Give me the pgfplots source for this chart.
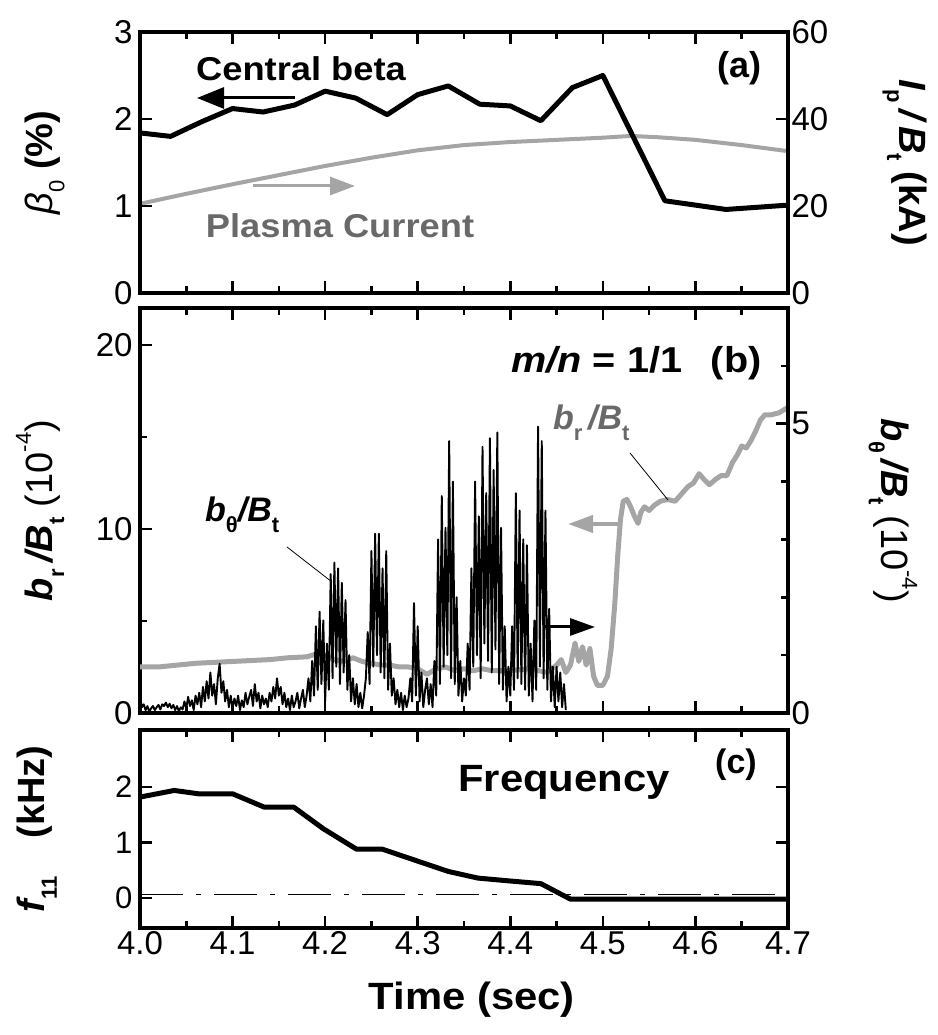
\documentclass[border=0pt]{standalone}
\usepackage{fontspec}
\setmainfont{Liberation Sans}
\newfontfamily\wide[FakeStretch=1.1]{Liberation Sans}
\usepackage{pgfplots}
\pgfplotsset{compat=1.18}
\usetikzlibrary{arrows.meta}
\definecolor{lgray}{RGB}{165,165,165}
\definecolor{dgray}{RGB}{105,105,105}
\newcommand{\fs}[1]{\fontsize{#1}{#1}\selectfont}
\newcommand{\sub}[1]{\raisebox{-0.32em}{\fontsize{22}{22}\selectfont\upshape #1}}
\newcommand{\sups}[1]{\raisebox{0.55em}{\fontsize{22}{22}\selectfont\upshape #1}}

\pgfplotstableread{
t v
4.000 1.84
4.033 1.80
4.067 1.97
4.100 2.12
4.133 2.08
4.167 2.16
4.200 2.32
4.233 2.24
4.267 2.05
4.300 2.28
4.333 2.38
4.367 2.17
4.400 2.15
4.433 1.98
4.467 2.36
4.500 2.50
4.567 1.06
4.633 0.96
4.700 1.01
}\betatab

\pgfplotstableread{
t v
4.00 20.5
4.05 22.8
4.10 25.0
4.15 27.1
4.20 29.2
4.25 31.1
4.30 32.8
4.35 34.0
4.40 34.7
4.45 35.2
4.50 35.7
4.53 36.1
4.56 35.8
4.60 35.2
4.65 34.0
4.70 32.6
}\iptab

\pgfplotstableread{
t v
4.000 2.5
4.020 2.5
4.040 2.6
4.060 2.7
4.080 2.75
4.100 2.8
4.120 2.85
4.140 2.9
4.160 3.0
4.180 3.05
4.190 3.2
4.200 3.15
4.210 2.9
4.220 2.8
4.230 3.0
4.240 2.8
4.250 2.7
4.260 2.6
4.270 2.6
4.280 2.5
4.290 2.5
4.300 2.4
4.310 2.1
4.320 2.4
4.330 2.5
4.340 2.3
4.350 2.4
4.360 2.3
4.370 2.4
4.380 2.3
4.400 2.3
4.420 2.4
4.440 2.2
4.450 2.6
4.455 2.9
4.460 2.2
4.465 2.6
4.470 3.8
4.474 2.8
4.478 3.6
4.482 2.6
4.486 3.5
4.490 2.0
4.494 1.5
4.500 1.5
4.505 2.0
4.509 3.5
4.513 6.0
4.516 8.5
4.519 10.5
4.522 11.5
4.526 11.6
4.530 11.2
4.534 10.7
4.538 10.3
4.541 10.9
4.545 11.2
4.550 11.0
4.556 11.3
4.562 11.5
4.570 11.6
4.578 11.5
4.585 11.9
4.592 12.3
4.598 12.5
4.604 13.0
4.609 12.7
4.615 12.4
4.622 12.7
4.628 12.9
4.634 12.9
4.640 13.6
4.645 14.0
4.650 14.5
4.655 14.4
4.660 14.8
4.665 15.3
4.670 15.9
4.675 16.2
4.682 16.2
4.690 16.3
4.700 16.6
}\brtab

\pgfplotstableread{
t v
4.000 0.30
4.002 0.10
4.004 0.15
4.006 0.05
4.008 0.12
4.010 0.02
4.012 0.08
4.014 0.12
4.016 0.05
4.018 0.10
4.020 0.14
4.022 0.06
4.024 0.15
4.026 0.12
4.028 0.18
4.030 0.10
4.032 0.16
4.034 0.08
4.036 0.14
4.038 0.05
4.040 0.12
4.042 0.03
4.044 0.10
4.046 0.06
4.048 0.20
4.050 0.08
4.052 0.28
4.054 0.12
4.056 0.22
4.058 0.05
4.060 0.30
4.062 0.15
4.064 0.35
4.066 0.10
4.068 0.45
4.070 0.20
4.072 0.55
4.074 0.25
4.076 0.70
4.078 0.30
4.080 0.50
4.082 0.15
4.084 0.60
4.086 0.85
4.088 0.35
4.090 0.55
4.092 0.20
4.094 0.40
4.096 0.10
4.098 0.30
4.100 0.08
4.102 0.25
4.104 0.12
4.106 0.30
4.108 0.05
4.110 0.22
4.112 0.10
4.114 0.35
4.116 0.15
4.118 0.28
4.120 0.40
4.122 0.12
4.124 0.50
4.126 0.20
4.128 0.35
4.130 0.08
4.132 0.30
4.134 0.15
4.136 0.25
4.138 0.10
4.140 0.35
4.142 0.20
4.144 0.45
4.146 0.25
4.148 0.60
4.150 0.30
4.152 0.45
4.154 0.15
4.156 0.35
4.158 0.10
4.160 0.25
4.162 0.05
4.164 0.30
4.166 0.10
4.168 0.20
4.170 0.35
4.172 0.08
4.174 0.25
4.176 0.40
4.178 0.10
4.180 0.30
4.182 0.60
4.184 0.20
4.186 0.90
4.188 0.30
4.190 1.50
4.192 0.40
4.194 1.75
4.196 0.50
4.198 1.60
4.200 0.20
4.202 1.20
4.204 0.40
4.206 2.40
4.208 0.60
4.210 2.60
4.212 0.80
4.214 2.50
4.216 0.50
4.218 2.25
4.220 0.70
4.222 1.95
4.224 0.40
4.226 1.00
4.228 0.20
4.230 0.60
4.232 0.15
4.234 0.50
4.236 0.10
4.238 0.35
4.240 0.08
4.242 0.30
4.244 0.60
4.246 1.40
4.248 0.50
4.250 2.80
4.252 0.80
4.254 3.10
4.256 1.00
4.258 3.10
4.260 0.70
4.262 2.50
4.264 0.60
4.266 2.80
4.268 0.40
4.270 1.20
4.272 0.30
4.274 0.60
4.276 0.15
4.278 0.40
4.280 0.10
4.282 0.35
4.284 0.05
4.286 0.30
4.288 0.10
4.290 0.25
4.292 0.60
4.294 0.20
4.296 1.90
4.298 0.30
4.300 1.50
4.302 0.20
4.304 0.70
4.306 0.10
4.308 0.40
4.310 0.60
4.312 0.15
4.314 0.50
4.316 0.10
4.318 0.90
4.320 0.30
4.322 3.00
4.324 0.50
4.326 3.75
4.328 0.80
4.330 3.20
4.332 1.00
4.334 4.70
4.336 0.60
4.338 4.00
4.340 0.50
4.342 2.00
4.344 0.30
4.346 0.90
4.348 0.20
4.350 0.60
4.352 0.30
4.354 1.20
4.356 0.40
4.358 2.50
4.360 0.80
4.362 4.00
4.364 1.00
4.366 3.40
4.368 0.60
4.370 4.60
4.372 1.20
4.374 3.80
4.376 0.90
4.378 4.75
4.380 0.70
4.382 4.20
4.384 1.10
4.386 4.85
4.388 0.50
4.390 3.20
4.392 0.40
4.394 1.50
4.396 0.20
4.398 0.80
4.400 0.30
4.402 1.50
4.404 0.40
4.406 3.80
4.408 0.60
4.410 3.50
4.412 0.50
4.414 3.00
4.416 0.40
4.418 2.90
4.420 0.30
4.422 1.20
4.424 0.20
4.426 1.60
4.428 0.40
4.430 4.95
4.432 0.80
4.434 4.70
4.436 0.60
4.438 3.50
4.440 0.40
4.442 1.80
4.444 0.20
4.446 0.80
4.448 0.10
4.450 0.80
4.452 0.20
4.454 0.70
4.456 0.10
4.458 0.50
4.460 0.05
}\bthtab

\pgfplotstableread{
t v
4.000 1.82
4.037 1.94
4.063 1.88
4.100 1.88
4.134 1.64
4.166 1.64
4.198 1.25
4.234 0.88
4.262 0.88
4.301 0.66
4.333 0.48
4.365 0.36
4.398 0.31
4.433 0.26
4.465 -0.02
4.700 -0.02
}\freqtab

\pgfplotsset{
  base/.style={
    scale only axis, width=648pt,
    anchor=south west,
    xmin=4.0, xmax=4.7,
    xtick={4.0,4.1,4.2,4.3,4.4,4.5,4.6,4.7},
    minor x tick num=1,
    tick align=inside,
    major tick length=12pt, minor tick length=7pt,
    tick style={black, line width=2.5pt},
    axis line style={line width=3.5pt},
    tick label style={font=\fs{33}},
    /pgf/number format/assume math mode=true,
    xticklabel style={/pgf/number format/fixed, /pgf/number format/fixed zerofill, /pgf/number format/precision=1},
  },
  leftax/.style={base, ytick pos=left, yticklabel style={xshift=-4pt}},
  rightax/.style={base, axis x line=none, axis y line*=right, ytick pos=right},
}

\begin{document}
\begin{tikzpicture}
\useasboundingbox (0,0) rectangle (937pt,1035pt);

% ---------- panel (a) ----------
\begin{axis}[rightax, at={(140pt,742pt)}, height=261pt,
  ymin=0, ymax=60, ytick={0,20,40,60},
  ylabel={\fs{38}\bfseries\itshape I\sub{p}\,/\,B\sub{t}\ \upshape(kA)},
  every axis y label/.style={at={(axis description cs:1.18,0.5)}, rotate=-90, anchor=center}]
\addplot[lgray, line width=4pt, line join=round] table[x=t,y=v] {\iptab};
\end{axis}
\begin{axis}[leftax, at={(140pt,742pt)}, height=261pt,
  ymin=0, ymax=3, ytick={0,1,2,3}, xticklabels={},
  ylabel={\fs{38}{\itshape β}\sub{0}\ {\bfseries(\%)}},
  every axis y label/.style={at={(axis description cs:-0.147,0.5)}, rotate=90, anchor=center}]
\addplot[black, line width=5pt, line join=round] table[x=t,y=v] {\betatab};
\end{axis}

% ---------- panel (b) ----------
\begin{axis}[leftax, at={(140pt,322pt)}, height=405pt,
  ymin=0, ymax=22, ytick={0,10,20}, minor ytick={5,15}, xticklabels={},
  ylabel={\fs{38}\bfseries\itshape b\sub{r}\,/B\sub{t}\ \mdseries\upshape(10\sups{-4})},
  every axis y label/.style={at={(axis description cs:-0.154,0.5)}, rotate=90, anchor=center}]
\addplot[lgray, line width=5pt, line join=round] table[x=t,y=v] {\brtab};
\end{axis}
\begin{axis}[rightax, at={(140pt,322pt)}, height=405pt,
  ymin=0, ymax=7, ytick={0,5}, minor ytick={1,2,3,4,6},
  ylabel={\fs{38}\bfseries\itshape b\sub{θ}\,/B\sub{t}\ \mdseries\upshape(10\sups{-4})},
  every axis y label/.style={at={(axis description cs:1.162,0.5)}, rotate=-90, anchor=center}]
\addplot[black, line width=1.9pt, line join=round] table[x=t,y=v] {\bthtab};
\end{axis}

% ---------- panel (c) ----------
\begin{axis}[base, at={(140pt,107pt)}, height=198pt,
  ymin=-0.54, ymax=3.03, ytick={0,1,2}, ytick pos=both,
  yticklabel style={xshift=-4pt, font=\fs{31}},
  xlabel={\fs{38}\bfseries\wide Time (sec)},
  every axis x label/.style={at={(axis description cs:0.512,-0.364)}, anchor=center},
  ylabel={\fs{38}\bfseries\itshape f\sub{11}\quad\upshape(kHz)},
  every axis y label/.style={at={(axis description cs:-0.159,0.5)}, rotate=90, anchor=center}]
\addplot[black, line width=1.4pt, dash pattern=on 43pt off 13pt on 5pt off 13pt] coordinates {(4.0,0.06) (4.7,0.06)};
\addplot[black, line width=5pt, line join=round] table[x=t,y=v] {\freqtab};
\end{axis}

% ---------- annotations ----------
\node[font=\fs{33}\bfseries\wide] at (301pt,966pt) {Central beta};
\node[font=\fs{33}\bfseries\wide, text=dgray] at (340pt,809pt) {Plasma Current};
\node[font=\fs{36}\bfseries] at (739pt,967pt) {(a)};
\draw[black, line width=3pt, -{Triangle[length=27pt,width=21pt]}] (295pt,937pt) -- (197pt,937pt);
\draw[lgray, line width=3pt, -{Triangle[length=25pt,width=18pt]}] (253pt,849pt) -- (355pt,849pt);

\node[font=\fs{36}\bfseries\wide, anchor=east] at (765pt,672pt) {{\itshape m/n} = 1/1\hspace{0.8em}(b)};
\node[font=\fs{34}\bfseries\itshape, anchor=base west, inner sep=0pt] at (205pt,513pt) {b\sub{θ}/B\sub{t}};
\node[font=\fs{34}\bfseries\itshape, text=dgray, anchor=base west, inner sep=0pt] at (553pt,605pt) {b\sub{r}\,/B\sub{t}};
\draw[black, line width=0.8pt] (287pt,488pt) -- (332pt,453pt);
\draw[black, line width=0.8pt] (630pt,582pt) -- (668pt,535pt);
\draw[lgray, line width=4pt, -{Triangle[length=25pt,width=17pt]}] (622pt,511pt) -- (568pt,511pt);
\draw[black, line width=3pt, -{Triangle[length=25pt,width=17pt]}] (543pt,408pt) -- (595pt,408pt);

\node[font=\fs{38}\bfseries\wide, anchor=base west, inner sep=0pt] at (458pt,243pt) {Frequency};
\node[font=\fs{34}\bfseries] at (736pt,270pt) {(c)};
\end{tikzpicture}
\end{document}
